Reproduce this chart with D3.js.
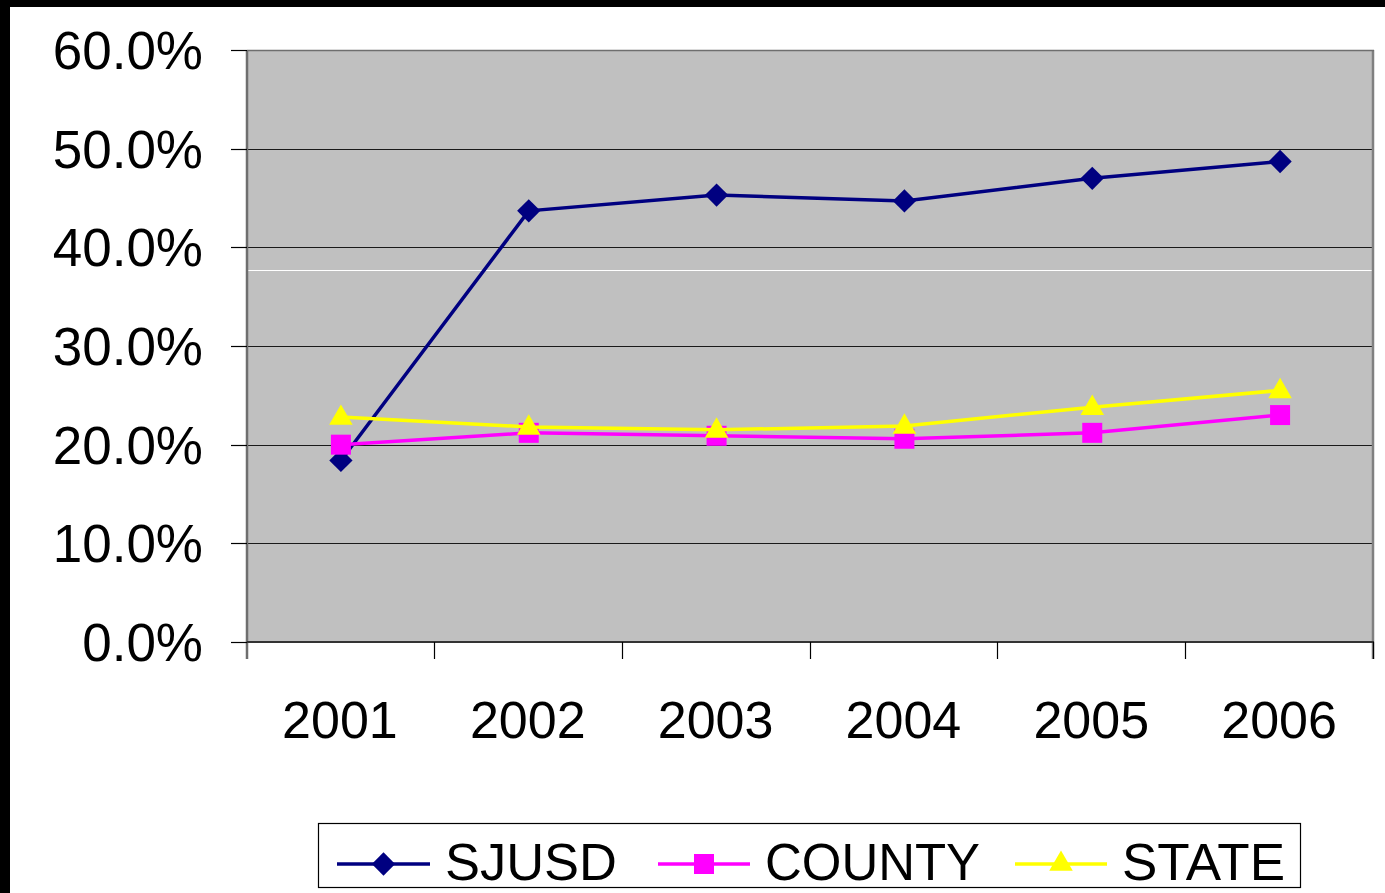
<!DOCTYPE html>
<html>
<head>
<meta charset="utf-8">
<script src="https://cdn.jsdelivr.net/npm/d3@7"></script>
<style>
  html, body { margin: 0; padding: 0; background: #fff; }
  svg { display: block; }
  text { font-family: "Liberation Sans", Arial, sans-serif; fill: #000; }
</style>
</head>
<body>
<script>
// Share of students by year: district vs. county vs. state
const years = ["2001", "2002", "2003", "2004", "2005", "2006"];
const sjusd  = [0.184, 0.437, 0.453, 0.447, 0.470, 0.487];
const county = [0.200, 0.212, 0.209, 0.206, 0.212, 0.230];
const state  = [0.228, 0.218, 0.215, 0.219, 0.238, 0.255];
const yTicks = [0, 0.1, 0.2, 0.3, 0.4, 0.5, 0.6];
const seriesNames = ["SJUSD", "COUNTY", "STATE"];

const W = 1385, H = 893;
const plot = { left: 247, right: 1374, top: 50, bottom: 642 };

const svg = d3.select("body").append("svg")
  .attr("width", W).attr("height", H);

// frame bands along the top and left edges
svg.append("rect").attr("x", 0).attr("y", 0).attr("width", W).attr("height", 7).attr("fill", "#000");
svg.append("rect").attr("x", 0).attr("y", 0).attr("width", 10).attr("height", H).attr("fill", "#000");

const x = d3.scaleBand().domain(years).range([plot.left, plot.right]).padding(0);
const y = d3.scaleLinear().domain([0, 0.6]).range([plot.bottom, plot.top]);
const cx = d => x(d) + x.bandwidth() / 2;

// plot background
svg.append("rect")
  .attr("x", plot.left).attr("y", plot.top)
  .attr("width", plot.right - plot.left).attr("height", plot.bottom - plot.top)
  .attr("fill", "#c0c0c0");

// horizontal gridlines
svg.append("g").selectAll("line").data(yTicks.filter(t => t > 0)).join("line")
  .attr("x1", plot.left).attr("x2", plot.right)
  .attr("y1", d => Math.round(y(d)) + 0.5).attr("y2", d => Math.round(y(d)) + 0.5)
  .attr("stroke", "#1a1a1a").attr("stroke-width", 1.2);

// thin light rule across the plot
svg.append("line")
  .attr("x1", plot.left).attr("x2", plot.right - 1)
  .attr("y1", Math.round(y(0.3775)) + 0.5).attr("y2", Math.round(y(0.3775)) + 0.5)
  .attr("stroke", "#ffffff").attr("stroke-width", 1);

// plot border: gray sides, dark baseline
svg.append("line").attr("x1", plot.left).attr("x2", plot.left)
  .attr("y1", plot.top).attr("y2", plot.bottom + 17)
  .attr("stroke", "#6e6e6e").attr("stroke-width", 2.5);
svg.append("line").attr("x1", plot.right - 1).attr("x2", plot.right - 1)
  .attr("y1", plot.top).attr("y2", plot.bottom + 17)
  .attr("stroke", "#808080").attr("stroke-width", 2.5);
svg.append("line").attr("x1", plot.left).attr("x2", plot.right)
  .attr("y1", plot.top + 0.5).attr("y2", plot.top + 0.5)
  .attr("stroke", "#6e6e6e").attr("stroke-width", 1.5);
svg.append("line").attr("x1", plot.left).attr("x2", plot.right)
  .attr("y1", plot.bottom).attr("y2", plot.bottom)
  .attr("stroke", "#333").attr("stroke-width", 2);

// y axis ticks and labels
const yAxis = svg.append("g");
yAxis.selectAll("line").data(yTicks).join("line")
  .attr("x1", plot.left - 16).attr("x2", plot.left)
  .attr("y1", d => Math.round(y(d)) + 0.5).attr("y2", d => Math.round(y(d)) + 0.5)
  .attr("stroke", "#000").attr("stroke-width", 1.2);
yAxis.selectAll("text").data(yTicks).join("text")
  .attr("x", 203).attr("y", d => y(d) + 19)
  .attr("text-anchor", "end")
  .style("font-size", "53px")
  .text(d => d3.format(".1%")(d));

// x axis ticks at category boundaries and year labels
const xEdges = years.map(d => x(d)).concat([plot.right]);
svg.append("g").selectAll("line").data(xEdges.slice(1)).join("line")
  .attr("x1", d => Math.round(d) - 0.5).attr("x2", d => Math.round(d) - 0.5)
  .attr("y1", plot.bottom).attr("y2", plot.bottom + 17)
  .attr("stroke", "#000").attr("stroke-width", 1.2);
svg.append("g").selectAll("text").data(years).join("text")
  .attr("x", d => cx(d) - 1).attr("y", 738)
  .attr("text-anchor", "middle")
  .style("font-size", "52px")
  .text(d => d);

// series
const series = [
  { name: seriesNames[0], values: sjusd,  color: "#000080", symbol: d3.symbolDiamond2, size: 345 },
  { name: seriesNames[1], values: county, color: "#ff00ff", symbol: d3.symbolSquare,  size: 400 },
  { name: seriesNames[2], values: state,  color: "#ffff00", symbol: d3.symbolTriangle, size: 240 }
];

const line = d3.line().x((d, i) => cx(years[i])).y(d => y(d));

series.forEach(s => {
  const g = svg.append("g");
  g.append("path").datum(s.values)
    .attr("d", line).attr("fill", "none")
    .attr("stroke", s.color).attr("stroke-width", 3.5);
  g.selectAll("path.m").data(s.values).join("path")
    .attr("class", "m")
    .attr("transform", (d, i) => `translate(${cx(years[i])},${y(d) + (s.symbol === d3.symbolTriangle ? 1 : 0)})`)
    .attr("d", d3.symbol().type(s.symbol).size(s.size))
    .attr("fill", s.color);
});

// legend
const legend = svg.append("g");
legend.append("rect")
  .attr("x", 318.5).attr("y", 823.5).attr("width", 982).attr("height", 64)
  .attr("fill", "#fff").attr("stroke", "#000").attr("stroke-width", 1.2);
const legendPos = [
  { line: [337, 430], text: 445 },
  { line: [658, 750], text: 765 },
  { line: [1015, 1107], text: 1122 }
];
series.forEach((s, i) => {
  const p = legendPos[i];
  const ly = 864;
  legend.append("line")
    .attr("x1", p.line[0]).attr("x2", p.line[1])
    .attr("y1", ly).attr("y2", ly)
    .attr("stroke", s.color).attr("stroke-width", 3.5);
  legend.append("path")
    .attr("transform", `translate(${(p.line[0] + p.line[1]) / 2},${ly})`)
    .attr("d", d3.symbol().type(s.symbol).size(s.size))
    .attr("fill", s.color);
  legend.append("text")
    .attr("x", p.text).attr("y", 880)
    .style("font-size", "52px")
    .attr("textLength", [172, 215, 163][i])
    .attr("lengthAdjust", "spacingAndGlyphs")
    .text(s.name);
});
</script>
</body>
</html>
